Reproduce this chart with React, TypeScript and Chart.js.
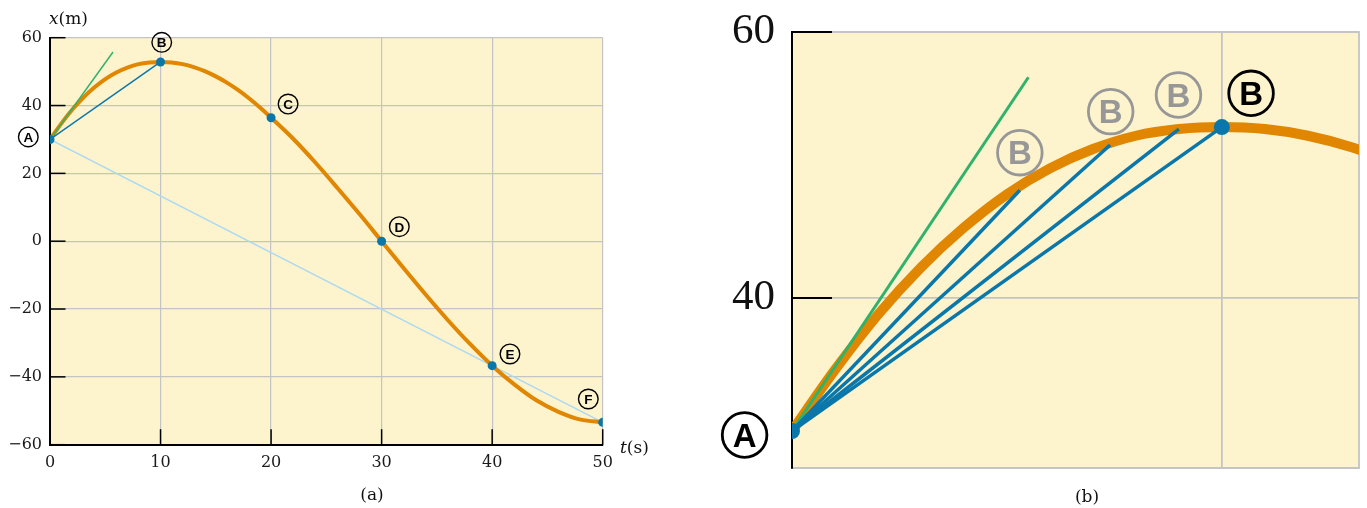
import React, { useEffect, useRef } from "react";
import { Chart, registerables } from "chart.js";

Chart.register(...registerables);

// ---------------- data ----------------
const curveT = [0, 1, 2, 3, 4, 5, 6, 7, 8, 9, 10, 11, 12, 13, 14, 15, 16, 17, 18, 19, 20, 22, 24, 26, 28, 30, 32, 34, 36, 38, 40, 42, 44, 46, 48, 50];
const curveX = [30, 34.6, 38.75, 42.3, 45.3, 47.8, 49.75, 51.2, 52.2, 52.7, 52.85, 52.7, 52.2, 51.35, 50.15, 48.6, 46.75, 44.6, 42.15, 39.4, 36.4, 30.2, 23.2, 15.7, 8.0, 0, -8.0, -15.8, -23.3, -30.3, -36.7, -42.2, -46.9, -50.3, -52.6, -53.4];

const pointLetters = ["A", "B", "C", "D", "E", "F"];
const pointT = [0, 10, 20, 30, 40, 50];
const pointX = [30, 52.85, 36.4, 0, -36.7, -53.4];

const leftXTicks = [0, 10, 20, 30, 40, 50];
const leftYTicks = [-60, -40, -20, 0, 20, 40, 60];

const tangentLeftT = [0, 5.7];
const tangentLeftX = [30, 55.8];
const tangentRightT = [0, 5.5];
const tangentRightX = [30, 56.6];

const chordEndT = [5.3, 7.4, 9.0, 10];
const chordEndX = [48.1, 51.5, 52.7, 52.85];

const rightXTicks = [10];
const rightYTicks = [40, 60];
const rightTMin = 0;
const rightTMax = 13.19;
const rightXMin = 27.22;
const rightXMax = 60;

// ---------------- styles / layout ----------------
const BG = "#fdf3cd";
const ORANGE = "#e08600";
const BLUE = "#0a77ab";
const GREEN = "#2fb36b";
const LIGHTBLUE = "#acd9f2";
const GRID = "#c4c4c4";
const GRAYLABEL = "#979797";

const leftLabelOffsets = [
  [-21.7, -2.5],
  [1.2, -19.6],
  [17, -13.7],
  [17.7, -14.5],
  [17.8, -11.7],
  [-14.4, -23.3],
];
const rightChordLabelOffsets = [
  [0, -37.6],
  [0.6, -33.4],
  [-0.4, -34.1],
  [29.2, -33.8],
];
const rightALabelOffset = [-47.4, 4];

const xy = (ts: number[], xs: number[]) => ts.map((t, i) => ({ x: t, y: xs[i] }));
const minusFmt = (v: number) => (v < 0 ? "\u2212" + Math.abs(v) : String(v));

const bgPlugin = {
  id: "bgArea",
  beforeDraw(chart: any, _a: any, opts: any) {
    const { ctx, chartArea: a } = chart;
    ctx.save();
    ctx.fillStyle = opts.color;
    ctx.fillRect(a.left, a.top, a.right - a.left, a.bottom - a.top);
    if (opts.edge) {
      ctx.strokeStyle = opts.edge;
      ctx.lineWidth = opts.edgeWidth;
      ctx.strokeRect(a.left, a.top, a.right - a.left, a.bottom - a.top);
    }
    ctx.restore();
  },
};

const inwardTicks = {
  id: "inwardTicks",
  afterDatasetsDraw(chart: any, _a: any, opts: any) {
    const { ctx, chartArea: a, scales } = chart;
    ctx.save();
    ctx.strokeStyle = "#000";
    ctx.lineWidth = opts.width;
    ctx.lineCap = "butt";
    for (const t of scales.y.ticks) {
      const y = scales.y.getPixelForValue(t.value);
      ctx.beginPath();
      ctx.moveTo(a.left, y);
      ctx.lineTo(a.left + opts.len, y);
      ctx.stroke();
    }
    if (opts.xToo) {
      for (const t of scales.x.ticks) {
        const x = scales.x.getPixelForValue(t.value);
        ctx.beginPath();
        ctx.moveTo(x, a.bottom);
        ctx.lineTo(x, a.bottom - opts.len);
        ctx.stroke();
      }
    }
    ctx.restore();
  },
};

const circleLabels = {
  id: "circleLabels",
  afterDraw(chart: any, _a: any, opts: any) {
    const { ctx, scales } = chart;
    ctx.save();
    for (const it of opts.items) {
      const cx = scales.x.getPixelForValue(it.t) + it.dx;
      const cy = scales.y.getPixelForValue(it.x) + it.dy;
      ctx.strokeStyle = it.color;
      ctx.fillStyle = it.color;
      ctx.lineWidth = opts.lineWidth;
      ctx.beginPath();
      ctx.arc(cx, cy, opts.radius, 0, Math.PI * 2);
      ctx.stroke();
      ctx.font = `bold ${opts.fontSize}px "Liberation Sans", Arial, sans-serif`;
      ctx.textAlign = "center";
      ctx.textBaseline = "alphabetic";
      ctx.fillText(it.letter, cx, cy + opts.fontSize * 0.358);
    }
    ctx.restore();
  },
};

function leftConfig(): any {
  const A = { x: pointT[0], y: pointX[0] };
  const B = { x: pointT[1], y: pointX[1] };
  const F = { x: pointT[5], y: pointX[5] };
  const items = pointLetters.map((l, i) => ({
    letter: l,
    t: pointT[i],
    x: pointX[i],
    dx: leftLabelOffsets[i][0],
    dy: leftLabelOffsets[i][1],
    color: "#000",
  }));
  const tickFont = { family: '"DejaVu Serif", serif', size: 16, lineHeight: 1 };
  return {
    type: "scatter",
    data: {
      datasets: [
        { data: xy(pointT, pointX), pointRadius: 4.5, pointBackgroundColor: BLUE, pointBorderWidth: 0, showLine: false },
        { data: xy(tangentLeftT, tangentLeftX), showLine: true, borderColor: GREEN, borderWidth: 1.5, pointRadius: 0 },
        { data: [A, B], showLine: true, borderColor: BLUE, borderWidth: 1.5, pointRadius: 0 },
        {
          data: xy(curveT, curveX),
          showLine: true,
          borderColor: ORANGE,
          borderWidth: 4,
          pointRadius: 0,
          cubicInterpolationMode: "monotone",
          capBezierPoints: false,
        },
        { data: [A, F], showLine: true, borderColor: LIGHTBLUE, borderWidth: 1.5, pointRadius: 0 },
      ],
    },
    options: {
      animation: false,
      responsive: false,
      events: [],
      layout: { padding: { left: 0, top: 37.7, right: 87.3, bottom: 0 } },
      plugins: {
        legend: { display: false },
        tooltip: { enabled: false },
        bgArea: { color: BG },
        inwardTicks: { width: 1.5, len: 15.5, xToo: true },
        circleLabels: { items, radius: 9.8, lineWidth: 1.4, fontSize: 13.5 },
      },
      scales: {
        x: {
          type: "linear",
          min: 0,
          max: 50,
          afterBuildTicks: (s: any) => {
            s.ticks = leftXTicks.map((v) => ({ value: v }));
          },
          afterFit: (s: any) => {
            s.height = 63.3;
          },
          grid: {
            color: (c: any) => (c.tick && c.tick.value === 0 ? "rgba(0,0,0,0)" : GRID),
            lineWidth: 1.2,
            drawTicks: false,
          },
          border: { color: "#000", width: 2 },
          ticks: { padding: 10, font: tickFont, color: "#1a1a1a", callback: (v: any) => minusFmt(Number(v)) },
        },
        y: {
          type: "linear",
          min: -60,
          max: 60,
          afterBuildTicks: (s: any) => {
            s.ticks = leftYTicks.map((v) => ({ value: v }));
          },
          afterFit: (s: any) => {
            s.width = 50;
          },
          grid: {
            color: (c: any) => (c.tick && c.tick.value === -60 ? "rgba(0,0,0,0)" : GRID),
            lineWidth: 1.2,
            drawTicks: false,
          },
          border: { color: "#000", width: 2 },
          ticks: { padding: 8, font: tickFont, color: "#1a1a1a", callback: (v: any) => minusFmt(Number(v)) },
        },
      },
    },
    plugins: [bgPlugin, inwardTicks, circleLabels],
  };
}

function rightConfig(): any {
  const A = { x: pointT[0], y: pointX[0] };
  const chordSets = chordEndT.map((t, i) => ({
    data: [A, { x: t, y: chordEndX[i] }],
    showLine: true,
    borderColor: BLUE,
    borderWidth: 3.5,
    pointRadius: 0,
  }));
  const items = [
    { letter: pointLetters[0], t: pointT[0], x: pointX[0], dx: rightALabelOffset[0], dy: rightALabelOffset[1], color: "#000" },
    ...chordEndT.map((t, i) => ({
      letter: pointLetters[1],
      t,
      x: chordEndX[i],
      dx: rightChordLabelOffsets[i][0],
      dy: rightChordLabelOffsets[i][1],
      color: i === chordEndT.length - 1 ? "#000" : GRAYLABEL,
    })),
  ];
  const last = chordEndT.length - 1;
  return {
    type: "scatter",
    data: {
      datasets: [
        {
          data: [A, { x: chordEndT[last], y: chordEndX[last] }],
          pointRadius: 8,
          pointBackgroundColor: BLUE,
          pointBorderWidth: 0,
          showLine: false,
        },
        ...chordSets,
        { data: xy(tangentRightT, tangentRightX), showLine: true, borderColor: GREEN, borderWidth: 3, pointRadius: 0 },
        {
          data: xy(curveT, curveX),
          showLine: true,
          borderColor: ORANGE,
          borderWidth: 10,
          pointRadius: 0,
          cubicInterpolationMode: "monotone",
          capBezierPoints: false,
        },
      ],
    },
    options: {
      animation: false,
      responsive: false,
      events: [],
      layout: { padding: { left: 0, top: 32, right: 4, bottom: 0 } },
      plugins: {
        legend: { display: false },
        tooltip: { enabled: false },
        bgArea: { color: BG, edge: GRID, edgeWidth: 1.8 },
        inwardTicks: { width: 2.2, len: 40, xToo: false },
        circleLabels: { items, radius: 22.3, lineWidth: 2.8, fontSize: 33 },
      },
      scales: {
        x: {
          type: "linear",
          min: rightTMin,
          max: rightTMax,
          afterBuildTicks: (s: any) => {
            s.ticks = rightXTicks.map((v) => ({ value: v }));
          },
          afterFit: (s: any) => {
            s.height = 40;
          },
          grid: { color: GRID, lineWidth: 1.8, drawTicks: false },
          border: { color: GRID, width: 1.8 },
          ticks: { display: false },
        },
        y: {
          type: "linear",
          min: rightXMin,
          max: rightXMax,
          afterBuildTicks: (s: any) => {
            s.ticks = rightYTicks.map((v) => ({ value: v }));
          },
          afterFit: (s: any) => {
            s.width = 102;
          },
          grid: { color: GRID, lineWidth: 1.8, drawTicks: false },
          border: { color: "#000", width: 2 },
          ticks: {
            padding: 17,
            font: { family: '"Liberation Serif", serif', size: 43, lineHeight: 0.4 },
            color: "#111",
            callback: (v: any) => minusFmt(Number(v)),
          },
        },
      },
    },
    plugins: [bgPlugin, inwardTicks, circleLabels],
  };
}

const captionStyle: React.CSSProperties = {
  position: "absolute",
  fontFamily: '"DejaVu Serif", serif',
  fontSize: 17,
  color: "#111",
  whiteSpace: "nowrap",
  lineHeight: 1,
};

export default function App() {
  const leftRef = useRef<HTMLCanvasElement | null>(null);
  const rightRef = useRef<HTMLCanvasElement | null>(null);

  useEffect(() => {
    const c1 = new Chart(leftRef.current as HTMLCanvasElement, leftConfig());
    const c2 = new Chart(rightRef.current as HTMLCanvasElement, rightConfig());
    return () => {
      c1.destroy();
      c2.destroy();
    };
  }, []);

  return (
    <div style={{ position: "absolute", left: 0, top: 0, width: 1367, height: 508, background: "#fff", overflow: "hidden" }}>
      <canvas
        ref={leftRef}
        width={690}
        height={508}
        style={{ position: "absolute", left: 0, top: 0, width: 690, height: 508, display: "block" }}
      />
      <canvas
        ref={rightRef}
        width={677}
        height={508}
        style={{ position: "absolute", left: 690, top: 0, width: 677, height: 508, display: "block" }}
      />
      <span style={{ ...captionStyle, left: 49, top: 18, transform: "translateY(-50%)" }}>
        <i>x</i>(m)
      </span>
      <span style={{ ...captionStyle, left: 620, top: 447, transform: "translateY(-50%)" }}>
        <i>t</i>(s)
      </span>
      <span style={{ ...captionStyle, left: 372, top: 494, transform: "translate(-50%,-50%)" }}>(a)</span>
      <span style={{ ...captionStyle, left: 1087, top: 496, transform: "translate(-50%,-50%)" }}>(b)</span>
    </div>
  );
}
